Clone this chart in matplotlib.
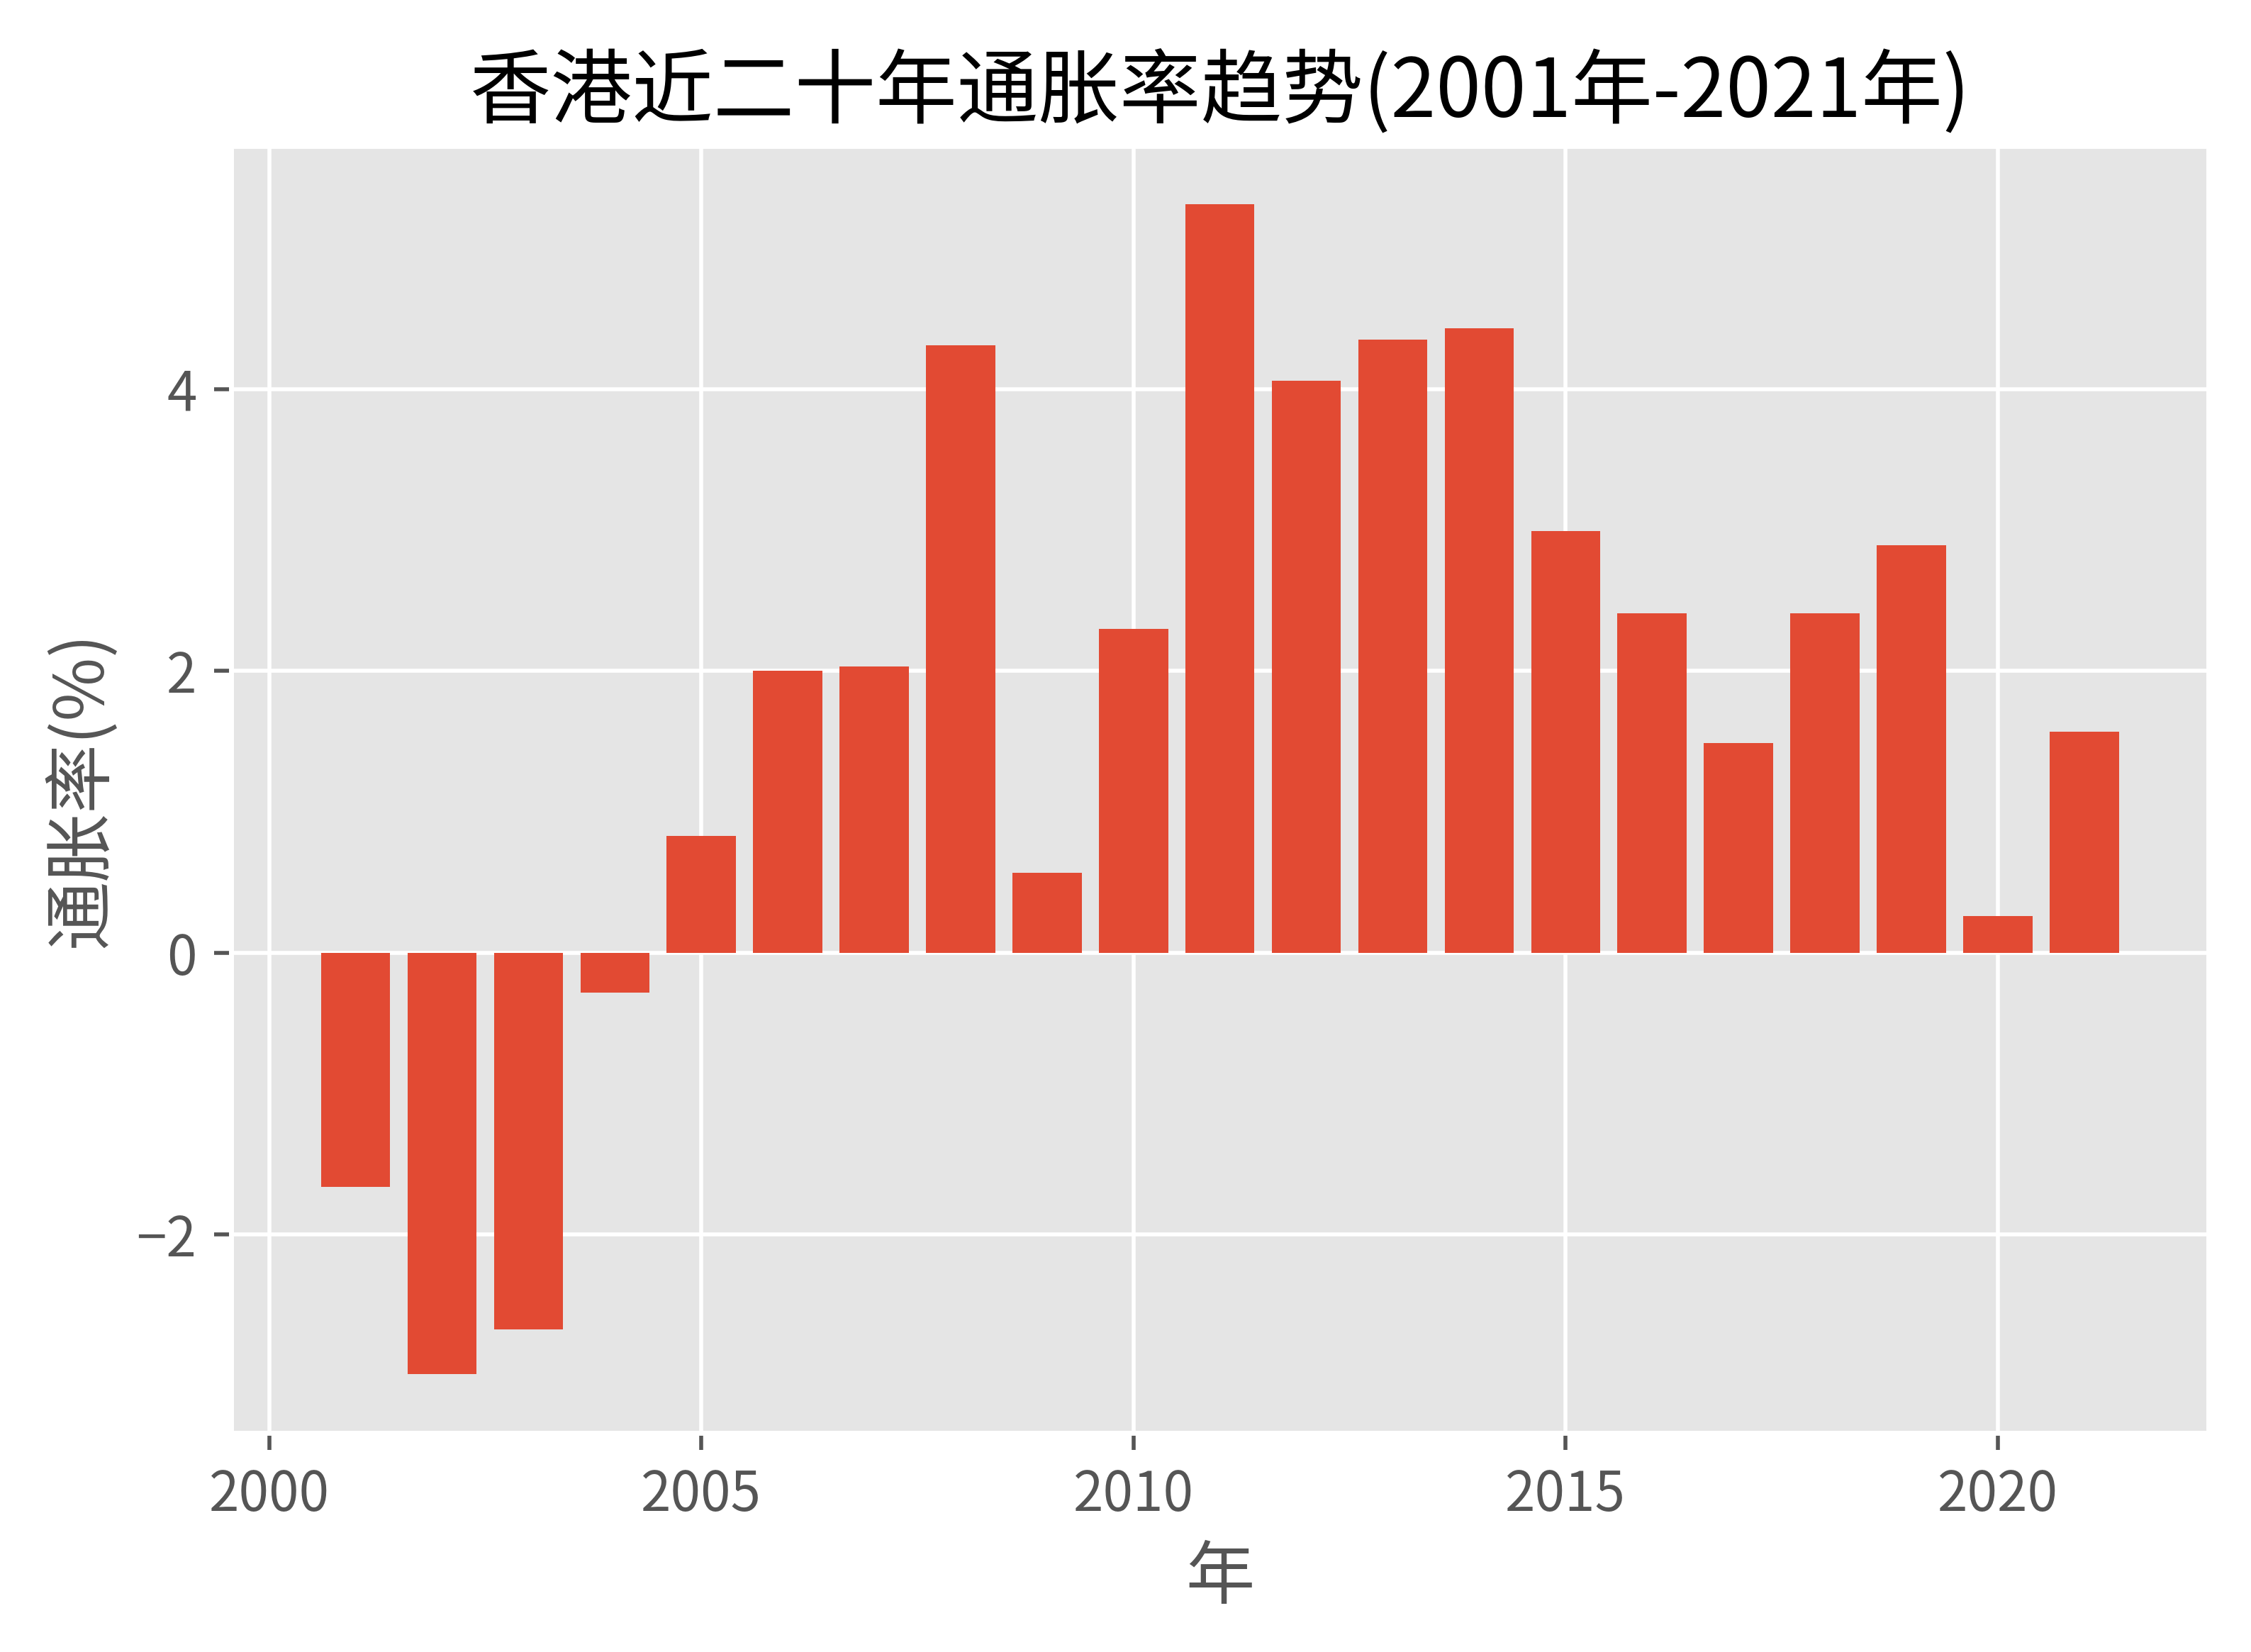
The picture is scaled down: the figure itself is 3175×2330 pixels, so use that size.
import matplotlib
matplotlib.use('Agg')
import matplotlib.pyplot as plt

# Données : taux d'inflation de Hong Kong 2001-2021
annees = [2001, 2002, 2003, 2004, 2005, 2006, 2007, 2008, 2009, 2010, 2011,
          2012, 2013, 2014, 2015, 2016, 2017, 2018, 2019, 2020, 2021]
inflation = [-1.66, -2.99, -2.67, -0.28, 0.83, 2.00, 2.03, 4.31, 0.57, 2.30, 5.31,
             4.06, 4.35, 4.43, 2.99, 2.41, 1.49, 2.41, 2.89, 0.26, 1.57]

plt.style.use('ggplot')
plt.rcParams['font.family'] = ['Noto Sans CJK SC', 'DejaVu Sans']
plt.rcParams['axes.unicode_minus'] = True

fig = plt.figure(figsize=(6.35, 4.66), dpi=500)
ax = fig.add_axes([0.1027, 0.1327, 0.8785, 0.779])
ax.bar(annees, inflation)
ax.set_title('香港近二十年通胀率趋势(2001年-2021年)', fontsize=16.5)
ax.set_xlabel('年', fontsize=14)
ax.set_ylabel('通胀率(%)', fontsize=14)
ax.tick_params(labelsize=11)

fig.savefig('out.png', dpi=500)
